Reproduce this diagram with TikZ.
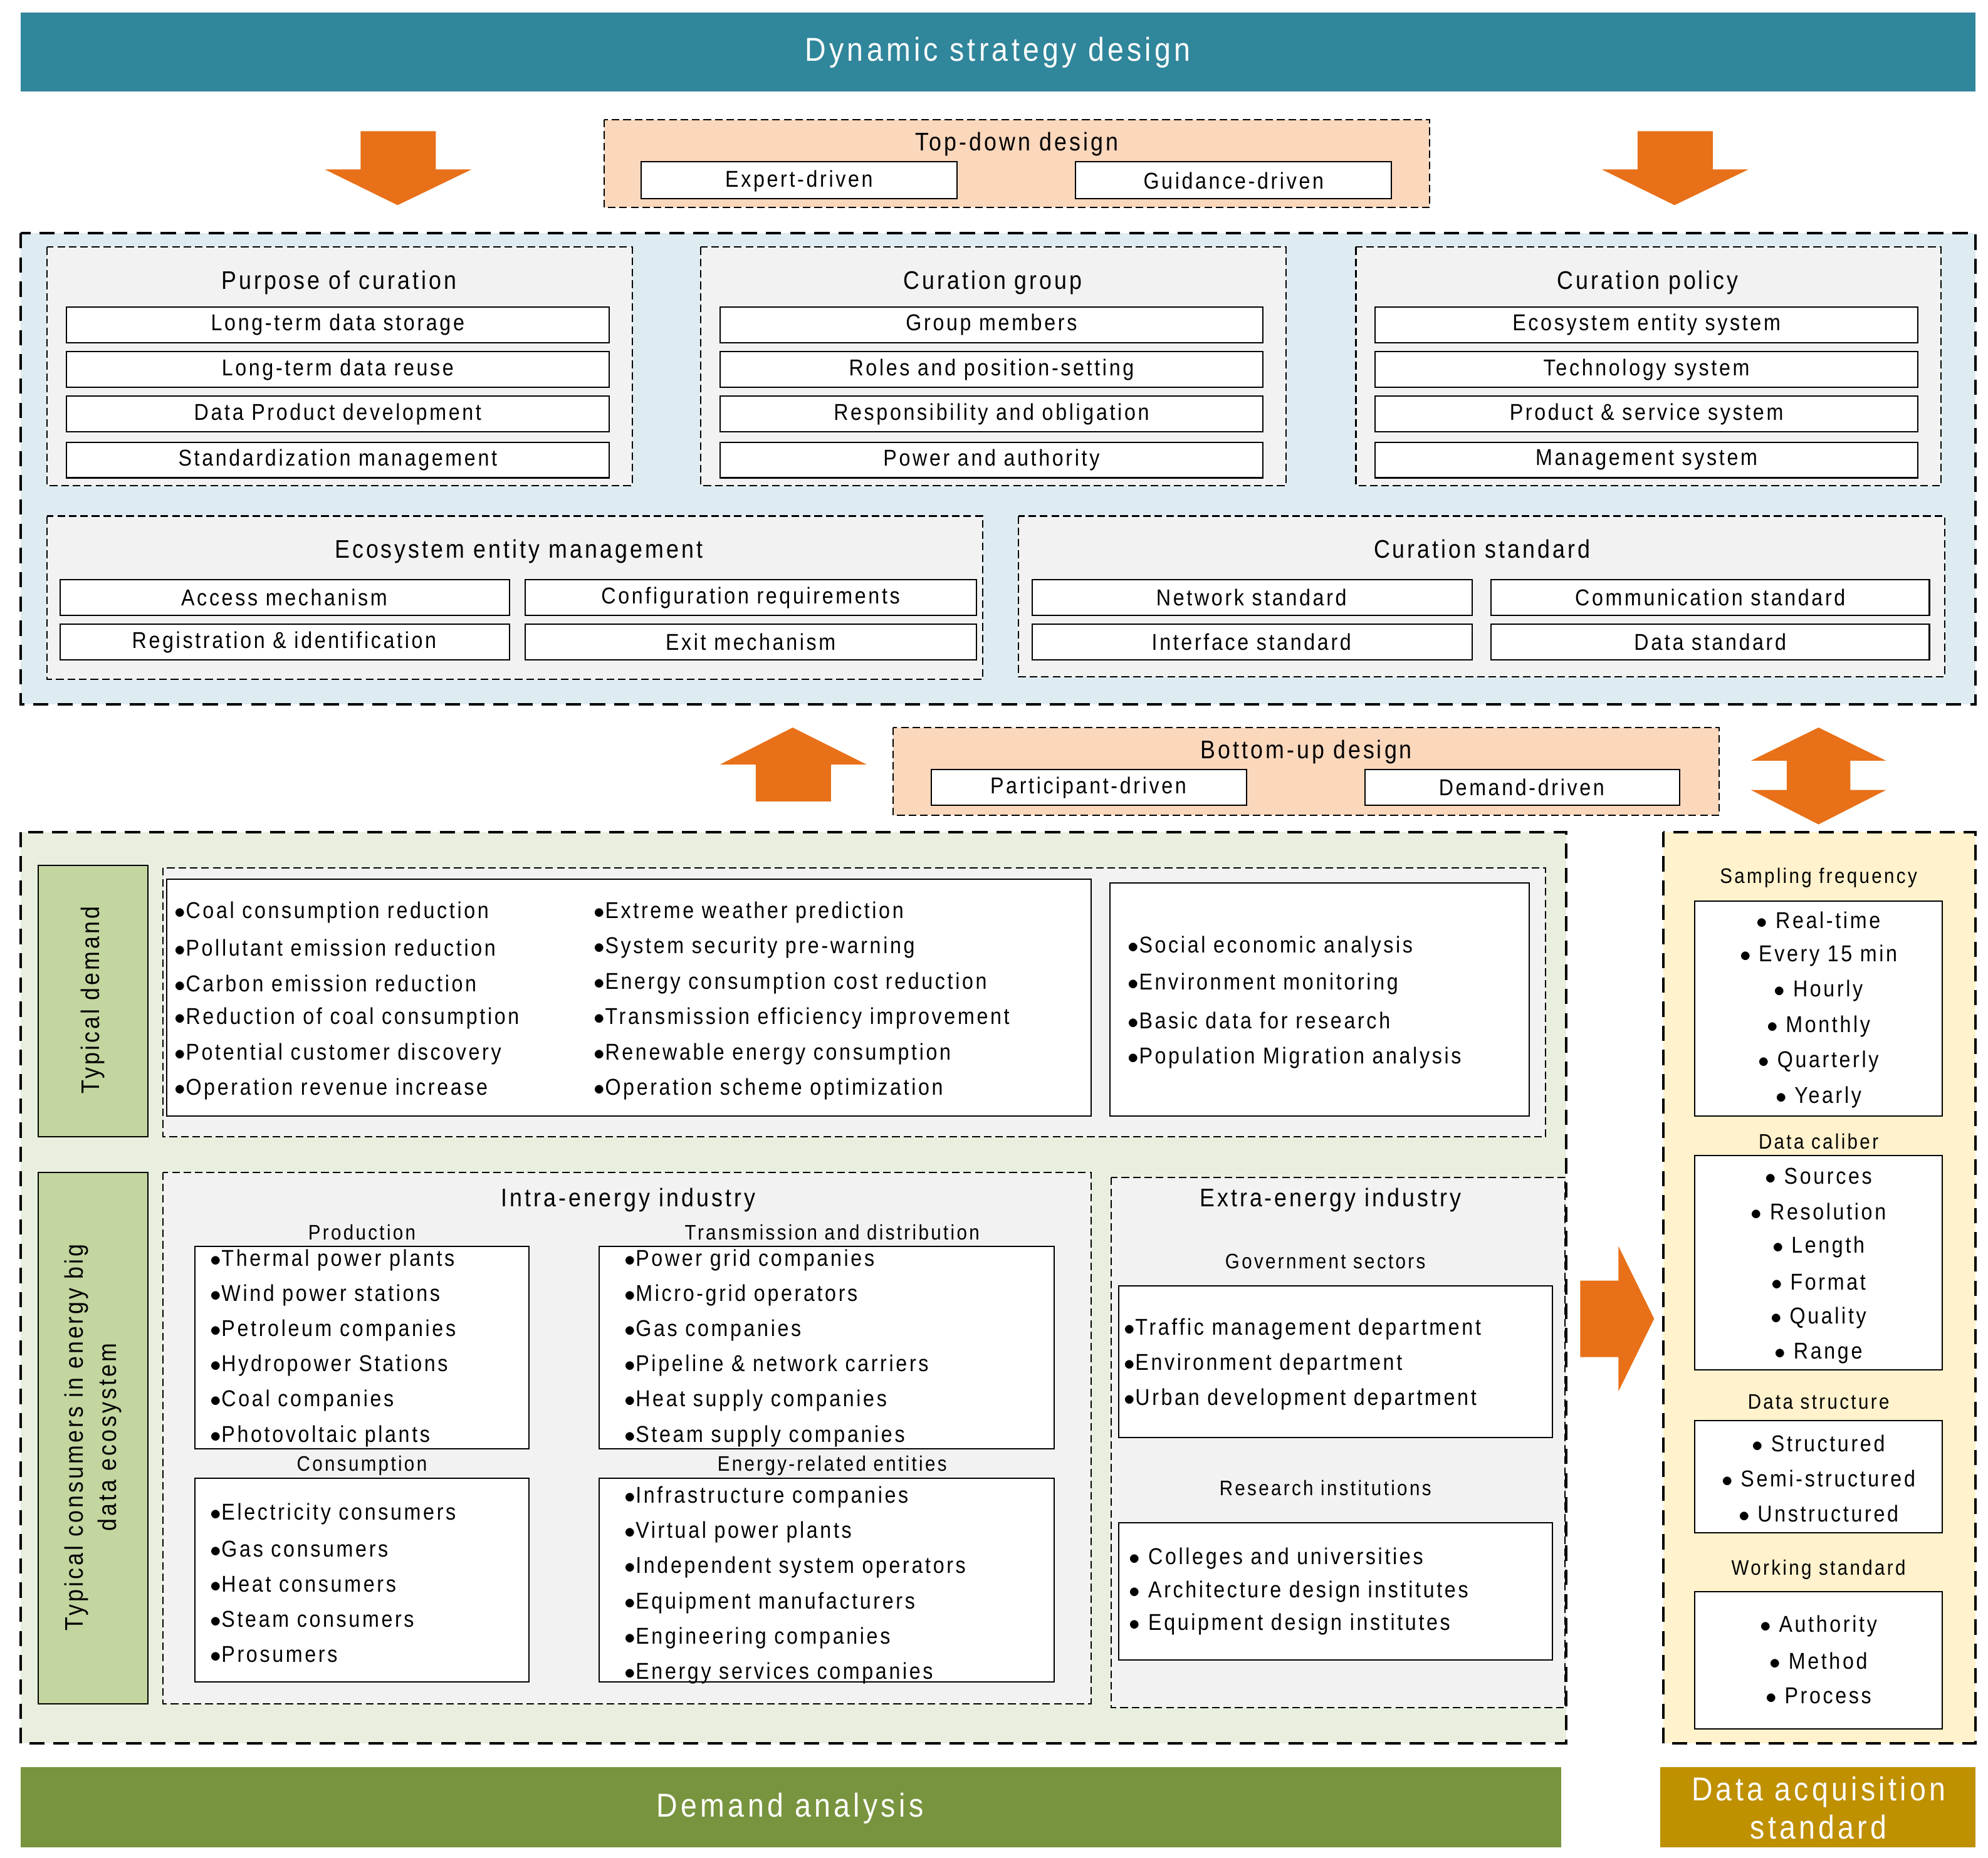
\documentclass[tikz,border=0pt]{standalone}
\usepackage{fontspec}
\setmainfont{Liberation Sans}[FakeStretch=0.88,LetterSpace=10]
\begin{document}
\begin{tikzpicture}[x=1pt,y=-1pt,
  box/.style={draw=black,line width=1pt,fill=white},
  dbox/.style={draw=black,dash pattern=on 6pt off 3pt,line width=1pt,fill=gray!10},
  big/.style={draw=black,line width=2pt,dash pattern=on 12pt off 7pt},
  t/.style={font=\fontsize{18}{18}\selectfont,inner sep=0pt},
  h/.style={font=\fontsize{20}{20}\selectfont,inner sep=0pt},
  s/.style={font=\fontsize{16.5}{16.5}\selectfont,inner sep=0pt}]
\definecolor{teal1}{RGB}{48,134,155}
\definecolor{blue1}{RGB}{222,236,242}
\definecolor{peach}{RGB}{251,215,188}
\definecolor{green1}{RGB}{233,239,222}
\definecolor{green2}{RGB}{196,214,160}
\definecolor{green3}{RGB}{120,148,62}
\definecolor{yel1}{RGB}{255,242,204}
\definecolor{gold}{RGB}{191,144,0}
\definecolor{org}{RGB}{232,112,24}
\tikzset{arr/.style={fill=org,draw=none}}
\useasboundingbox (0,0) rectangle (1560,1458);
\fill[white] (0,0) rectangle (1560,1458);
% top banner
\fill[teal1] (16,10) rectangle (1550,72);
\node[text=white,font=\fontsize{26}{26}\selectfont] (title) at (783,41) {Dynamic strategy design};
% down arrows
\fill[arr] (283,103)--(342,103)--(342,133)--(370,133)--(312,161)--(255,133)--(283,133)--cycle;
\fill[arr] (1285,103)--(1344,103)--(1344,133)--(1372,133)--(1314,161)--(1257,133)--(1285,133)--cycle;
% top-down
\draw[dash pattern=on 6pt off 3pt,line width=1pt,fill=peach] (474,94) rectangle (1122,163);
\node[h] (td) at (798,113) {Top-down design};
\draw[box] (503,127) rectangle (751,156); \node[t] (ed) at (627,142) {Expert-driven};
\draw[box] (844,127) rectangle (1092,156); \node[t] (gd) at (968,142) {Guidance-driven};
% blue region
\fill[blue1] (16,183) rectangle (1550,553);
\draw[big] (16,183) rectangle (1550,553);
\foreach \x/\tt/\a/\b/\c/\d [count=\k] in {37/Purpose of curation/Long-term data storage/Long-term data reuse/Data Product development/Standardization management,
  550/Curation group/Group members/Roles and position-setting/Responsibility and obligation/Power and authority,
  1064/Curation policy/Ecosystem entity system/Technology system/Product \& service system/Management system}{
  \draw[dbox] (\x,194) rectangle ({\x+459},381);
  \node[h] (g\k) at ({\x+229},222) {\tt};
  \foreach \y/\lab [count=\j] in {241/\a,276/\b,311/\c,347/\d}{
    \draw[box] ({\x+15},\y) rectangle ({\x+441},{\y+28});
    \node[t] (g\k i\j) at ({\x+228},{\y+14}) {\lab};}
}
\draw[dbox] (37,405) rectangle (771,533);
\node[h] (eem) at (407,433) {Ecosystem entity management};
\draw[box] (47,455) rectangle (400,483); \node[t] (e1) at (223,469) {Access mechanism};
\draw[box] (412,455) rectangle (766,483); \node[t] (e2) at (589,469) {Configuration requirements};
\draw[box] (47,490) rectangle (400,518); \node[t] (e3) at (223,504) {Registration \& identification};
\draw[box] (412,490) rectangle (766,518); \node[t] (e4) at (589,504) {Exit mechanism};
\draw[dbox] (799,405) rectangle (1526,531);
\node[h] (cs) at (1163,431) {Curation standard};
\draw[box] (810,455) rectangle (1155,483); \node[t] (c1) at (982,469) {Network standard};
\draw[box] (1170,455) rectangle (1514,483); \node[t] (c2) at (1342,469) {Communication standard};
\draw[box] (810,490) rectangle (1155,518); \node[t] (c3) at (982,504) {Interface standard};
\draw[box] (1170,490) rectangle (1514,518); \node[t] (c4) at (1342,504) {Data standard};
% up arrow & bottom-up
\fill[arr] (622,571)--(680,600)--(652,600)--(652,629)--(593,629)--(593,600)--(565,600)--cycle;
\draw[dash pattern=on 6pt off 3pt,line width=1pt,fill=peach] (701,571) rectangle (1349,640);
\node[h] (bu) at (1025,590) {Bottom-up design};
\draw[box] (731,604) rectangle (978,632); \node[t] (pd) at (854,618) {Participant-driven};
\draw[box] (1071,604) rectangle (1318,632); \node[t] (dd) at (1194,618) {Demand-driven};
\fill[arr] (1427,571)--(1480,597)--(1452,597)--(1452,620)--(1480,620)--(1427,647)--(1374,620)--(1402,620)--(1402,597)--(1374,597)--cycle;
% green region
\fill[green1] (16,653) rectangle (1229,1368);
\draw[big] (16,653) rectangle (1229,1368);
\draw[fill=green2,line width=1pt] (30,679) rectangle (116,892);
\node[h,rotate=90] (tdl) at (73,785) {Typical demand};
\draw[fill=green2,line width=1pt] (30,920) rectangle (116,1337);
\node[h,rotate=90,align=center] (tcl) at (73,1128) {Typical consumers in energy big\\[6pt]data ecosystem};
\draw[dbox] (128,681) rectangle (1213,892);
\draw[box] (131,690) rectangle (856,876);
\foreach \lab [count=\j] in {Coal consumption reduction,Pollutant emission reduction,Carbon emission reduction,Reduction of coal consumption,Potential customer discovery,Operation revenue increase}
  \node[t,anchor=west] (da\j) at (137,{716+27.8*(\j-1)}) {$\bullet$\lab};
\foreach \lab [count=\j] in {Extreme weather prediction,System security pre-warning,Energy consumption cost reduction,Transmission efficiency improvement,Renewable energy consumption,Operation scheme optimization}
  \node[t,anchor=west] (db\j) at (466,{716+27.8*(\j-1)}) {$\bullet$\lab};
\draw[box] (871,693) rectangle (1200,876);
\foreach \lab [count=\j] in {Social economic analysis,Environment monitoring,Basic data for research,Population Migration analysis}
  \node[t,anchor=west] (dc\j) at (885,{743+29*(\j-1)}) {$\bullet$\lab};
% intra
\draw[dbox] (128,920) rectangle (856,1337);
\node[h] (intra) at (493,942) {Intra-energy industry};
\node[s] (prod) at (284,967) {Production};
\draw[box] (153,978) rectangle (415,1137);
\foreach \lab [count=\j] in {Thermal power plants,Wind power stations,Petroleum companies,Hydropower Stations,Coal companies,Photovoltaic plants}
  \node[t,anchor=west] (pr\j) at (165,{989+27.6*(\j-1)}) {$\bullet$\lab};
\node[s] (trans) at (653,967) {Transmission and distribution};
\draw[box] (470,978) rectangle (827,1137);
\foreach \lab [count=\j] in {Power grid companies,Micro-grid operators,Gas companies,Pipeline \& network carriers,Heat supply companies,Steam supply companies}
  \node[t,anchor=west] (tr\j) at (490,{989+27.6*(\j-1)}) {$\bullet$\lab};
\node[s] (cons) at (284,1150) {Consumption};
\draw[box] (153,1160) rectangle (415,1320);
\foreach \lab [count=\j] in {Electricity consumers,Gas consumers,Heat consumers,Steam consumers,Prosumers}
  \node[t,anchor=west] (co\j) at (165,{1188+27.6*(\j-1)}) {$\bullet$\lab};
\node[s] (ere) at (653,1150) {Energy-related entities};
\draw[box] (470,1160) rectangle (827,1320);
\foreach \lab [count=\j] in {Infrastructure companies,Virtual power plants,Independent system operators,Equipment manufacturers,Engineering companies,Energy services companies}
  \node[t,anchor=west] (er\j) at (490,{1175+27.6*(\j-1)}) {$\bullet$\lab};
% extra
\draw[dbox] (872,924) rectangle (1228,1340);
\node[h] (extra) at (1044,942) {Extra-energy industry};
\node[s] (gov) at (1040,990) {Government sectors};
\draw[box] (878,1009) rectangle (1218,1128);
\foreach \lab [count=\j] in {Traffic management department,Environment department,Urban development department}
  \node[t,anchor=west] (gv\j) at (882,{1043+27.5*(\j-1)}) {$\bullet$\lab};
\node[s] (res) at (1040,1168) {Research institutions};
\draw[box] (878,1195) rectangle (1218,1303);
\foreach \lab [count=\j] in {Colleges and universities,Architecture design institutes,Equipment design institutes}
  \node[t,anchor=west] (rs\j) at (886,{1223+26*(\j-1)}) {$\bullet$ \lab};
% right arrow
\fill[arr] (1240,1005)--(1270,1005)--(1270,978)--(1298,1035)--(1270,1092)--(1270,1065)--(1240,1065)--cycle;
% yellow region
\fill[yel1] (1305,653) rectangle (1550,1368);
\draw[big] (1305,653) rectangle (1550,1368);
\node[s] (sf) at (1427,689) {Sampling frequency};
\draw[box] (1330,707) rectangle (1524,876);
\foreach \lab [count=\j] in {Real-time,Every 15 min,Hourly,Monthly,Quarterly,Yearly}
  \node[t] (sfi\j) at (1427,{722+27.8*(\j-1)}) {$\bullet$ \lab};
\node[s] (dcal) at (1427,896) {Data caliber};
\draw[box] (1330,907) rectangle (1524,1075);
\foreach \lab [count=\j] in {Sources,Resolution,Length,Format,Quality,Range}
  \node[t] (dci\j) at (1427,{923+27.8*(\j-1)}) {$\bullet$ \lab};
\node[s] (dst) at (1427,1100) {Data structure};
\draw[box] (1330,1115) rectangle (1524,1203);
\foreach \lab [count=\j] in {Structured,Semi-structured,Unstructured}
  \node[t] (dsi\j) at (1427,{1133+27.5*(\j-1)}) {$\bullet$ \lab};
\node[s] (ws) at (1427,1232) {Working standard};
\draw[box] (1330,1249) rectangle (1524,1357);
\foreach \lab [count=\j] in {Authority,Method,Process}
  \node[t] (wsi\j) at (1427,{1276+27.5*(\j-1)}) {$\bullet$ \lab};
% bottom banners
\fill[green3] (16,1387) rectangle (1225,1450);
\node[text=white,font=\fontsize{26}{26}\selectfont] (da) at (620,1419) {Demand analysis};
\fill[gold] (1303,1387) rectangle (1550,1450);
\node[text=white,font=\fontsize{26}{30}\selectfont,align=center] (das) at (1427,1419) {Data acquisition\\standard};
\end{tikzpicture}
\end{document}
